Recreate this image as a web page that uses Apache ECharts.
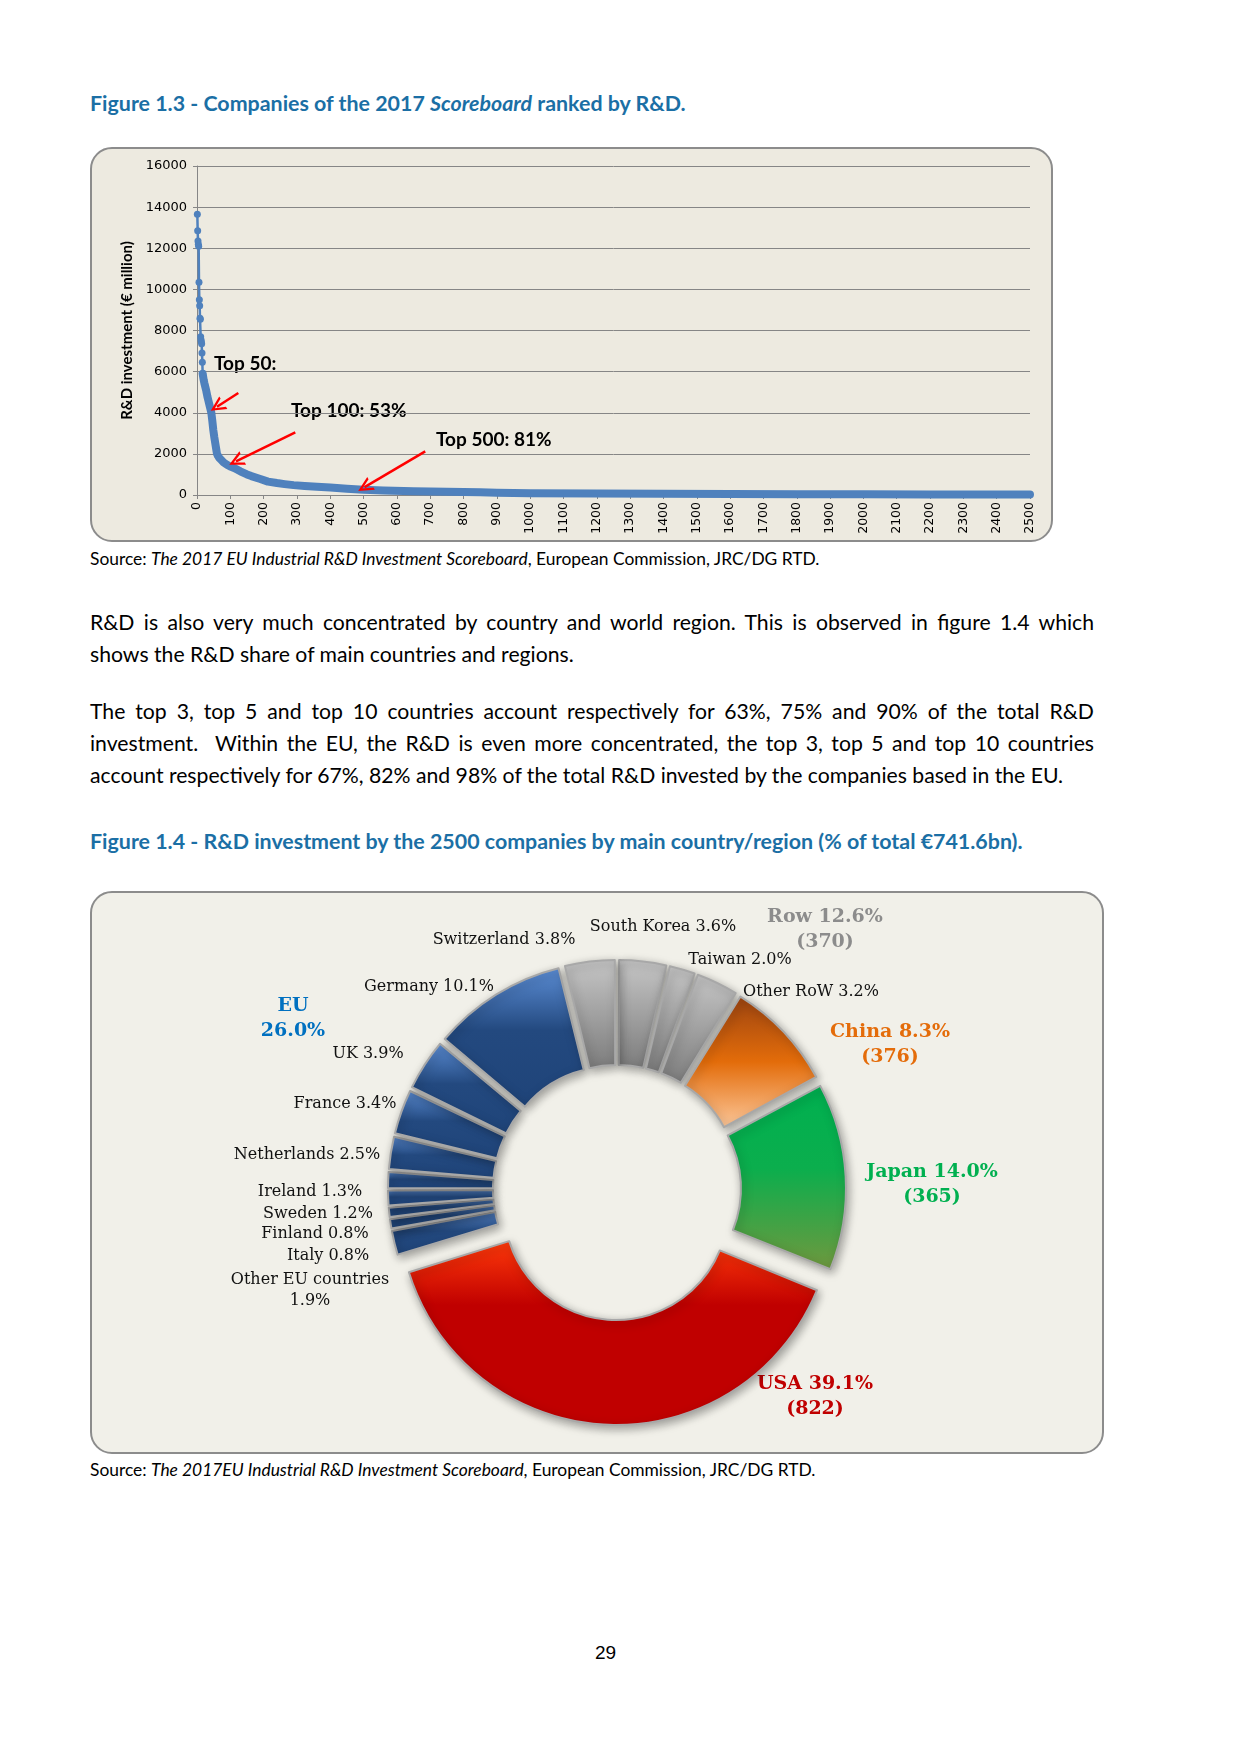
<!DOCTYPE html>
<html><head><meta charset="utf-8">
<script src="https://cdn.jsdelivr.net/npm/echarts@6/dist/echarts.min.js"></script>
<style>
html,body{margin:0;padding:0;background:#fff;}
body{width:1240px;height:1754px;position:relative;overflow:hidden;font-family:Lato,'Open Sans',sans-serif;color:#000;}
.t{position:absolute;white-space:nowrap;}
.title{left:90px;font-weight:bold;font-size:21.4px;color:#1B6FA5;line-height:26px;}
.src{left:90px;font-size:17.4px;line-height:22px;}
.ln{position:absolute;left:90px;width:1004px;font-size:21.2px;line-height:28px;white-space:nowrap;}
.j{text-align:justify;text-align-last:justify;white-space:normal;}
.box{position:absolute;box-sizing:border-box;border:2px solid #8C8C8C;border-radius:22px;overflow:hidden;}
</style></head>
<body>
<div class="t title" style="top:90px">Figure 1.3 - Companies of the 2017 <i>Scoreboard</i> ranked by R&amp;D.</div>
<div id="c1" class="box" style="left:90px;top:147px;width:963px;height:395px;background:#EDEAE0"></div>
<div class="t src" style="top:548px">Source: <i>The 2017 EU Industrial R&amp;D Investment Scoreboard</i>, European Commission, JRC/DG RTD.</div>

<div class="ln j" style="top:608px">R&amp;D is also very much concentrated by country and world region. This is observed in figure 1.4 which</div>
<div class="ln" style="top:640px">shows the R&amp;D share of main countries and regions.</div>

<div class="ln j" style="top:697px">The top 3, top 5 and top 10 countries account respectively for 63%, 75% and 90% of the total R&amp;D</div>
<div class="ln j" style="top:729px">investment.&nbsp; Within the EU, the R&amp;D is even more concentrated, the top 3, top 5 and top 10 countries</div>
<div class="ln" style="top:761px">account respectively for 67%, 82% and 98% of the total R&amp;D invested by the companies based in the EU.</div>

<div class="t title" style="top:828px">Figure 1.4 - R&amp;D investment by the 2500 companies by main country/region (% of total €741.6bn).</div>
<div id="c2" class="box" style="left:90px;top:891px;width:1014px;height:563px;background:#F1F0E9"></div>
<div class="t src" style="top:1459px">Source: <i>The 2017EU Industrial R&amp;D Investment Scoreboard</i>, European Commission, JRC/DG RTD.</div>
<div class="t" style="left:595px;top:1641px;font-family:'Liberation Sans',Arial,sans-serif;font-size:19px;line-height:24px;">29</div>

<script>
// ---------- Figure 1.3 data ----------
const ranks = [1,2,3,4,5,6,7,8,9,10,11,12,13,14,15,16,17,18,19,20,22,25,28,31,34,37,40,43,46,49,52,55,58,60,63,67,73,80,90,100,113,130,150,163,190,213,240,263,290,323,360,400,450,500,560,650,750,850,900,1000,1200,1400,1600,1800,2000,2200,2400,2500];
const rdValues = [13650,12850,12350,12200,12100,10350,9500,9200,8600,8550,7700,7550,7450,7350,6900,6450,5900,5800,5700,5600,5450,5250,5050,4800,4600,4400,4200,4000,3600,3150,2800,2500,2200,2000,1900,1800,1700,1580,1470,1380,1300,1150,1000,920,780,650,580,530,480,440,400,360,300,250,215,180,155,130,115,90,75,65,50,42,35,30,25,22];
const headCount = 17; // companies drawn with individual markers
const annotations = ['Top 50:', 'Top 100: 53%', 'Top 500: 81%'];
// arrow annotations in data coordinates [fromRank, fromValue, toRank, toValue]
const arrows = [[124,4960,60,4290],[295,3050,117,1634],[685,2120,503,380]];

// ---------- Figure 1.4 data ----------
const countries = ['South Korea','Taiwan','Other RoW','China','Japan','USA','Other EU countries','Italy','Finland','Sweden','Ireland','Netherlands','France','UK','Germany','Switzerland'];
const shares = [3.6,2.0,3.2,8.3,14.0,39.1,1.9,0.8,0.8,1.2,1.3,2.5,3.4,3.9,10.1,3.8];
const regionOf = ['RoW','RoW','RoW','China','Japan','USA','EU','EU','EU','EU','EU','EU','EU','EU','EU','RoW'];
const regions = ['Row','China','Japan','USA','EU'];
const regionShares = [12.6,8.3,14.0,39.1,26.0];
const regionCompanies = [370,376,365,822,null];

const pts = ranks.map((r,i)=>[r, rdValues[i]]);
const blue = '#4F81BD';
const arrowHead = 'path://M0,0 L7,12 L4.6,12 L0,4 L-4.6,12 L-7,12 Z';

const c1 = echarts.init(document.getElementById('c1'), null, {renderer:'canvas'});
c1.setOption({
  animation:false,
  grid:{left:105,right:21,top:17,bottom:45,containLabel:false,outerBoundsMode:'none'},
  xAxis:{type:'value',min:0,max:2500,interval:100,
    axisLine:{lineStyle:{color:'#868686',width:1}},
    axisTick:{show:true,length:4,lineStyle:{color:'#868686'}},
    splitLine:{show:false},
    axisLabel:{rotate:90,margin:7,fontSize:12.5,fontFamily:'DejaVu Sans',color:'#000',formatter:v=>String(v)}},
  yAxis:{type:'value',min:0,max:16000,interval:2000,
    name:'R&D investment (€ million)',nameLocation:'middle',nameGap:62,
    nameTextStyle:{fontFamily:'Lato',fontWeight:'bold',fontSize:15,color:'#000'},
    axisLine:{show:true,lineStyle:{color:'#868686',width:1}},
    axisTick:{show:true,length:4,lineStyle:{color:'#868686'}},
    splitLine:{lineStyle:{color:'#868686',width:1}},
    axisLabel:{margin:10,fontSize:13,fontFamily:'DejaVu Sans',color:'#000',formatter:v=>String(v)}},
  series:[
    {type:'line',data:pts.slice(headCount-1),showSymbol:false,symbol:'none',
     lineStyle:{color:blue,width:8,cap:'round',join:'round'},z:2,
     markLine:{silent:true,symbol:['none',arrowHead],symbolSize:[15,15],
       lineStyle:{color:'#FF0000',width:2.5,type:'solid'},label:{show:false},
       data:arrows.map(a=>[{coord:[a[0],a[1]]},{coord:[a[2],a[3]]}])}},
    {type:'line',data:pts.slice(0,headCount),symbol:'circle',symbolSize:7,
     itemStyle:{color:blue},lineStyle:{color:blue,width:2.5},z:3}
  ],
  graphic:[
    {type:'text',left:122,top:205,style:{text:annotations[0],font:'bold 19px Lato',fill:'#000'}},
    {type:'text',left:199,top:252,style:{text:annotations[1],font:'bold 19px Lato',fill:'#000'}},
    {type:'text',left:344,top:281,style:{text:annotations[2],font:'bold 19px Lato',fill:'#000'}}
  ]
});

// ---------- Figure 1.4 ----------
function lg(stops){return {type:'linear',x:0,y:0,x2:0,y2:1,colorStops:stops.map(s=>({offset:s[0],color:s[1]}))};}
const fills = {
  EU: lg([[0,'#5C8ED6'],[0.45,'#23497F'],[1,'#1F4479']]),
  RoW: lg([[0,'#C6C6C6'],[1,'#7C7C7C']]),
  China: lg([[0,'#9C4410'],[0.5,'#E36C0A'],[1,'#FCC89B']]),
  Japan: lg([[0,'#00B050'],[0.45,'#0BAE4D'],[1,'#70983E']]),
  USA: lg([[0,'#FF3A0A'],[0.35,'#C00000'],[1,'#C00000']])
};
const regionColors = ['#8C8C8C','#E46C0A','#00B050','#C00000','#0070C0'];
// label anchor points (px inside chart) — layout only
const detailPos = [[571,34],[648,67],[719,99],null,null,null,[218,397],[236,363],[223,341],[226,321],[218,299],[215,262],[253,211],[276,161],[337,94],[412,47]];
const regionPos = [[733,37],[798,152],[840,292],[723,504],[201,126]];

const pieStyle = {borderColor:'#A8A8A8',borderWidth:2,shadowBlur:10,shadowColor:'rgba(0,0,0,0.35)',shadowOffsetX:2,shadowOffsetY:3};
const hidden = {color:'rgba(0,0,0,0)',borderWidth:0,shadowBlur:0,shadowColor:'rgba(0,0,0,0)'};
const ring = {center:[525,296],radius:[112,217],startAngle:90,clockwise:true};
function ringSeries(offset, showFn){
  return Object.assign({type:'pie',selectedMode:'multiple',selectedOffset:offset,
    padAngle:0.4,avoidLabelOverlap:false,silent:true,
    itemStyle:pieStyle,
    select:{itemStyle:{borderColor:'#A8A8A8',borderWidth:2}},
    label:{show:false},labelLine:{show:false},
    data:countries.map((n,i)=>{
      const vis = showFn(i);
      return {name:n,value:shares[i],selected:true,
        itemStyle: vis ? {color:fills[regionOf[i]]} : hidden,
        select: vis ? undefined : {itemStyle:hidden}};
    })}, ring);
}

const c2 = echarts.init(document.getElementById('c2'), null, {renderer:'canvas'});
c2.setOption({
  animation:false,
  series:[
    ringSeries(12, i=>regionOf[i]!=='USA'),
    ringSeries(19, i=>regionOf[i]==='USA'),
    // country labels
    Object.assign({type:'pie',avoidLabelOverlap:false,silent:true,
     itemStyle:hidden,
     label:{position:'outside',fontFamily:'DejaVu Serif',fontSize:16,color:'#111',lineHeight:21,
       formatter:p=> p.name==='Other EU countries' ? p.name+'\n'+p.value.toFixed(1)+'%' : p.name+' '+p.value.toFixed(1)+'%'},
     labelLine:{show:false},
     labelLayout:p=>{const q=detailPos[p.dataIndex]; return q?{x:q[0],y:q[1],align:'center',verticalAlign:'middle',hideOverlap:false}:{};},
     data:countries.map((n,i)=>({name:n,value:shares[i],label:{show:detailPos[i]!==null}}))}, ring),
    // region labels
    {type:'pie',center:ring.center,radius:ring.radius,startAngle:90+3.8*3.6,clockwise:true,silent:true,
     avoidLabelOverlap:false,
     itemStyle:hidden,
     label:{position:'outside',fontFamily:'DejaVu Serif',fontWeight:'bold',fontSize:19,lineHeight:25,
       formatter:p=>{const i=p.dataIndex; const c=regionCompanies[i];
         return i===4 ? p.name+'\n'+p.value.toFixed(1)+'%' : p.name+' '+p.value.toFixed(1)+'%\n('+c+')';}},
     labelLine:{show:false},
     labelLayout:p=>{const q=regionPos[p.dataIndex]; return {x:q[0],y:q[1],align:'center',verticalAlign:'middle',hideOverlap:false};},
     data:regions.map((r,i)=>({name:r,value:regionShares[i],label:{color:regionColors[i]}}))}
  ]
});
</script>
</body></html>
